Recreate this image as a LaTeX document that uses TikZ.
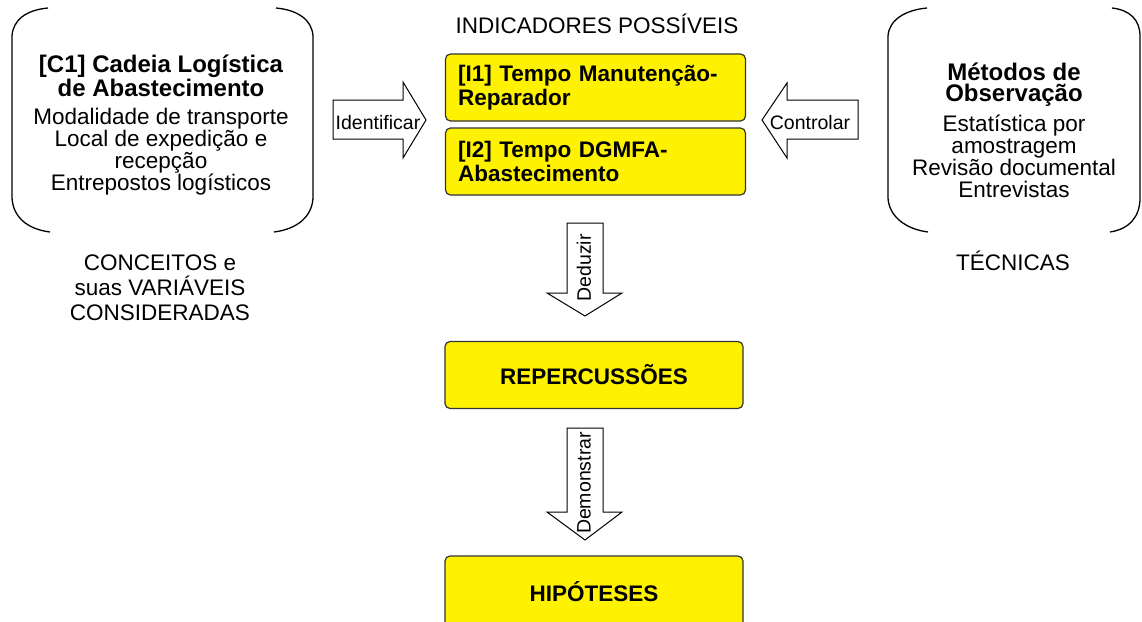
\documentclass[tikz,border=0pt]{standalone}
\usepackage{fontspec}
\setmainfont{Liberation Sans}
\newcommand{\setfs}[2]{\fontsize{#1}{#2}\selectfont}
\begin{document}
\begin{tikzpicture}[x=1pt,y=-1pt,
    curly/.style={line width=1.3pt},
    ybox/.style={draw=black!80, line width=1.2pt, fill=yellow, rounded corners=5pt,
      minimum width=300, minimum height=67, font=\setfs{22.5}{24.5}\bfseries},
    barrow/.style={draw=black, line width=1pt, fill=white},
    btext/.style={font=\setfs{19.5}{21}},
    ttl/.style={align=center, font=\setfs{24}{21}\bfseries},
    vars/.style={align=center, font=\setfs{22.5}{22}},
    lbl/.style={align=center, font=\setfs{22.5}{25}}]
    \useasboundingbox (0,0) rectangle (1142,621);
    % brackets
    \draw[curly] (48,8) .. controls (26,10) and (13,20) .. (12,36) -- (12,198) .. controls (13,216) and (26,229) .. (50,232);
    \draw[curly] (276,8) .. controls (298,10) and (312,20) .. (313,36) -- (313,198) .. controls (312,216) and (298,229) .. (274,232);
    \draw[curly] (927,8) .. controls (905,10) and (889,20) .. (888,36) -- (888,198) .. controls (889,216) and (905,229) .. (928,232);
    \draw[curly] (1112,8) .. controls (1130,10) and (1140,20) .. (1140,36) -- (1140,198) .. controls (1140,216) and (1130,229) .. (1110,232);
    \node[ttl] (c1title) at (161,76) {[C1] Cadeia Logística\\de Abastecimento};
    \node[vars] (c1vars) at (161,152) {Modalidade de transporte\\Local de expedição e\\recepção\\Entrepostos logísticos};
    \node[ttl] (mtitle) at (1014,85) {Métodos de\\Observação};
    \node[vars] (mvars) at (1014,156) {Estatística por\\amostragem\\Revisão documental\\Entrevistas};
    \node[lbl] (conceitos) at (160,288) {CONCEITOS e\\suas VARIÁVEIS\\CONSIDERADAS};
    \node[lbl] (tecnicas) at (1013,261) {TÉCNICAS};
    \node[lbl] (indic) at (597,24) {INDICADORES POSSÍVEIS};
    % indicadores
    \node[ybox, text width=275, align=left] (i1) at (595.5,87.5) {[I1] Tempo Manutenção-\\Reparador};
    \node[ybox, text width=275, align=left] (i2) at (595.5,161.5) {[I2] Tempo DGMFA-\\Abastecimento};
    \node[ybox, minimum width=298, align=center] (rep) at (594,375) {REPERCUSSÕES};
    \node[ybox, minimum width=298, minimum height=72, align=center] (hip) at (594,592) {HIPÓTESES};
    % block arrows
    \draw[barrow] (333,100) -- (403,100) -- (403,82) -- (426,120) -- (403,158) -- (403,139) -- (333,139) -- cycle;
    \node[btext] (ident) at (378,123) {Identificar};
    \draw[barrow] (858,100) -- (787,100) -- (787,83) -- (762,120) -- (787,158) -- (787,139) -- (858,139) -- cycle;
    \node[btext] (contr) at (810,123) {Controlar};
    \draw[barrow] (567,223) -- (603,223) -- (603,293) -- (622,293) -- (585,316) -- (547,293) -- (567,293) -- cycle;
    \node[btext, rotate=90] (deduz) at (584,268) {Deduzir};
    \draw[barrow] (567,428) -- (603,428) -- (603,512) -- (622,512) -- (585,540) -- (547,512) -- (567,512) -- cycle;
    \node[btext, rotate=90] (demon) at (584,483) {Demonstrar};
\end{tikzpicture}
\end{document}
